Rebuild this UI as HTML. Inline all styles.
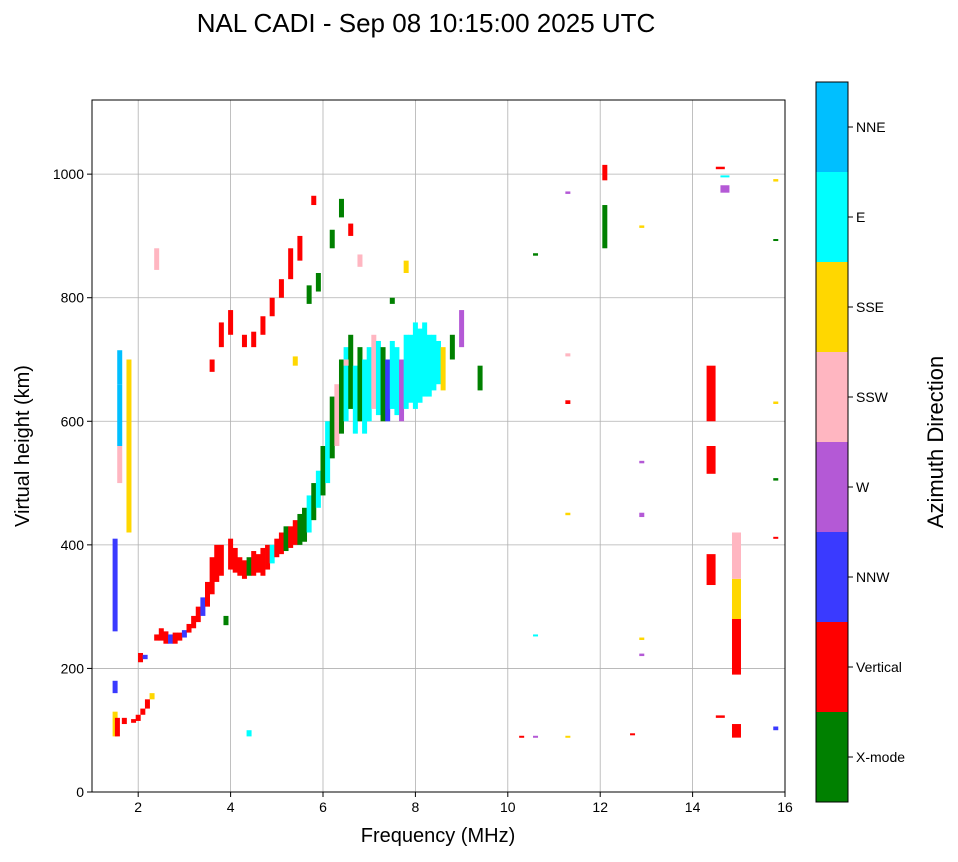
<!DOCTYPE html>
<html><head><meta charset="utf-8"><style>
body{margin:0;background:#fff;font-family:"Liberation Sans",sans-serif}
svg text{font-family:"Liberation Sans",sans-serif}
</style></head><body>
<svg id="chart" width="958" height="857">
<text x="426" y="32" font-size="26" text-anchor="middle">NAL CADI - Sep 08 10:15:00 2025 UTC</text>
<g id="grid"></g><g id="marks"></g><g id="axes"></g><g id="cbar"></g>
</svg>
<script>
const catNames=["X-mode","Vertical","NNW","W","SSW","SSE","E","NNE"];
const catColors=["#008000","#ff0000","#3a3aff","#b459d6","#ffb6c1","#ffd700","#00ffff","#00bfff"];
const xTicks=[2,4,6,8,10,12,14,16];
const yTicks=[0,200,400,600,800,1000];
const echoFreq=[
1.5,1.5,1.55,1.6,1.6,1.6,1.8,1.8,1.5,1.7,
1.9,2.0,2.1,2.2,2.3,2.05,2.15,2.4,2.5,2.6,
2.7,2.8,2.9,3.0,3.1,3.2,3.3,3.4,3.5,3.6,
3.7,3.8,3.9,4.0,4.1,4.2,4.3,4.4,4.5,4.6,
4.7,4.8,4.9,5.0,5.1,5.2,5.3,5.4,5.5,5.6,
5.7,5.8,5.9,6.0,6.1,6.2,6.3,6.4,6.5,6.6,
6.7,6.8,6.9,7.0,7.1,7.2,7.3,7.4,7.5,7.6,
7.7,7.8,7.9,8.0,8.1,8.2,8.3,8.4,8.5,8.6,
8.8,9.0,9.4,3.6,3.8,4.0,4.3,4.5,4.7,4.9,
5.1,5.3,5.5,5.7,5.9,6.2,6.4,6.6,5.8,6.8,
7.8,2.4,4.4,10.6,11.3,12.1,12.1,12.9,14.4,14.4,
14.4,14.95,14.95,14.95,14.95,14.6,14.6,15.8,15.8,15.8,
15.8,15.8,15.8,11.3,11.3,12.9,12.9,12.9,12.7,10.3,
10.6,11.3,5.4,6.5,7.5,10.6,11.3,12.9,14.7,14.7];
const echoH0=[
260,90,90,500,560,660,420,600,160,110,
112,115,125,135,150,210,215,245,245,240,
240,240,245,250,258,265,275,285,300,320,
340,350,270,360,355,350,345,350,350,355,
350,360,370,380,385,390,395,400,400,405,
420,440,460,480,500,540,560,580,600,620,
580,600,580,600,620,610,600,600,620,610,
600,620,630,620,630,640,640,650,660,650,
700,720,650,680,720,740,720,720,740,770,
800,830,860,790,810,880,930,900,950,850,
840,845,90,868,968,880,990,913,600,515,
335,190,280,345,88,120,1008,988,893,628,
504,410,100,448,705,445,246,220,92,88,
88,88,690,690,790,252,628,532,995,970];
const echoH1=[
410,130,120,560,660,715,600,700,180,120,
118,125,135,150,160,225,222,255,265,260,
255,258,258,262,272,285,300,315,340,380,
400,400,285,410,395,380,375,380,390,385,
395,400,400,410,420,430,430,440,450,460,
480,500,520,560,600,640,660,700,720,740,
690,720,700,720,740,730,720,700,730,720,
700,740,740,760,750,760,740,740,730,720,
740,780,690,700,760,780,740,745,770,800,
830,880,900,820,840,910,960,920,965,870,
860,880,100,872,972,950,1015,917,690,560,
385,280,345,420,110,124,1012,992,895,632,
508,413,106,452,710,452,250,224,95,91,
91,91,705,700,800,255,634,536,998,982];
const echoCat=[
2,5,1,4,7,7,5,5,2,1,
1,1,1,1,5,1,2,1,1,1,
2,1,1,2,1,1,1,2,1,1,
1,1,0,1,1,1,1,0,1,1,
1,1,6,1,1,0,1,1,0,0,
6,0,6,0,6,0,4,0,6,0,
6,0,6,6,4,6,0,2,6,6,
3,6,6,6,6,6,6,6,6,5,
0,3,0,1,1,1,1,1,1,1,
1,1,1,0,0,0,0,1,1,4,
5,4,6,0,3,0,1,5,1,1,
1,1,5,4,1,1,1,5,0,5,
0,1,2,5,4,3,5,3,1,1,
3,5,5,4,0,6,1,3,6,3];
const X0=92,X1=785,Y0=792,Y1=100,xmin=1,xmax=16,ymin=0,ymax=1120;
const xs=f=>X0+(f-xmin)/(xmax-xmin)*(X1-X0);
const ys=h=>Y0-(h-ymin)/(ymax-ymin)*(Y0-Y1);
const NS="http://www.w3.org/2000/svg";
function mk(tag,attrs,parent){const e=document.createElementNS(NS,tag);for(const k in attrs)e.setAttribute(k,attrs[k]);parent.appendChild(e);return e;}
const grid=document.getElementById('grid'),marks=document.getElementById('marks'),axes=document.getElementById('axes'),cb=document.getElementById('cbar');
xTicks.forEach(t=>{const l=mk('line',{x1:xs(t),x2:xs(t),y1:Y1,y2:Y0,stroke:'#b0b0b0','stroke-width':0.8},grid);

});
yTicks.forEach(t=>{const l=mk('line',{x1:X0,x2:X1,y1:ys(t),y2:ys(t),stroke:'#b0b0b0','stroke-width':0.8},grid);

});
const n=Math.min(echoFreq.length,echoH0.length,echoH1.length,echoCat.length);
for(let i=0;i<n;i++){const f=echoFreq[i];const w=(f>=14.3&&f<=15.1)?9:5;const y1=ys(echoH1[i]),y0=ys(echoH0[i]);
const c=echoCat[i]||0;
const r=mk('rect',{x:xs(f)-w/2,y:y1,width:w,height:Math.max(2,y0-y1),fill:catColors[c]},marks);

}
const fr=mk('rect',{x:X0,y:Y1,width:X1-X0,height:Y0-Y1,fill:'none',stroke:'#000','stroke-width':1},axes);


xTicks.forEach(t=>{mk('line',{x1:xs(t),x2:xs(t),y1:Y0,y2:Y0+5,stroke:'#000'},axes);
const tx=mk('text',{x:xs(t),y:Y0+20,'font-size':14,'text-anchor':'middle'},axes);tx.textContent=t;

});
yTicks.forEach(t=>{mk('line',{x1:X0-5,x2:X0,y1:ys(t),y2:ys(t),stroke:'#000'},axes);
const tx=mk('text',{x:X0-8,y:ys(t)+5,'font-size':14,'text-anchor':'end'},axes);tx.textContent=t;

});
const xl=mk('text',{x:438,y:842,'font-size':20,'text-anchor':'middle'},axes);xl.textContent='Frequency (MHz)';


const yl=mk('text',{x:29,y:446,'font-size':20,'text-anchor':'middle',transform:'rotate(-90 29 446)'},axes);yl.textContent='Virtual height (km)';


const CB0=82,CBH=90;
catNames.forEach((nm,i)=>{const y=CB0+(7-i)*CBH;
const r=mk('rect',{x:816,y:y,width:32,height:CBH,fill:catColors[i]},cb);


mk('line',{x1:848,x2:853,y1:y+CBH/2,y2:y+CBH/2,stroke:'#000'},cb);
const t=mk('text',{x:856,y:y+CBH/2+5,'font-size':14},cb);t.textContent=nm;

});
const cf=mk('rect',{x:816,y:CB0,width:32,height:CBH*8,fill:'none',stroke:'#000'},cb);


const ct=mk('text',{x:943,y:442,'font-size':22,'text-anchor':'middle',transform:'rotate(-90 943 442)'},cb);ct.textContent='Azimuth Direction';


</script>
</body></html>
